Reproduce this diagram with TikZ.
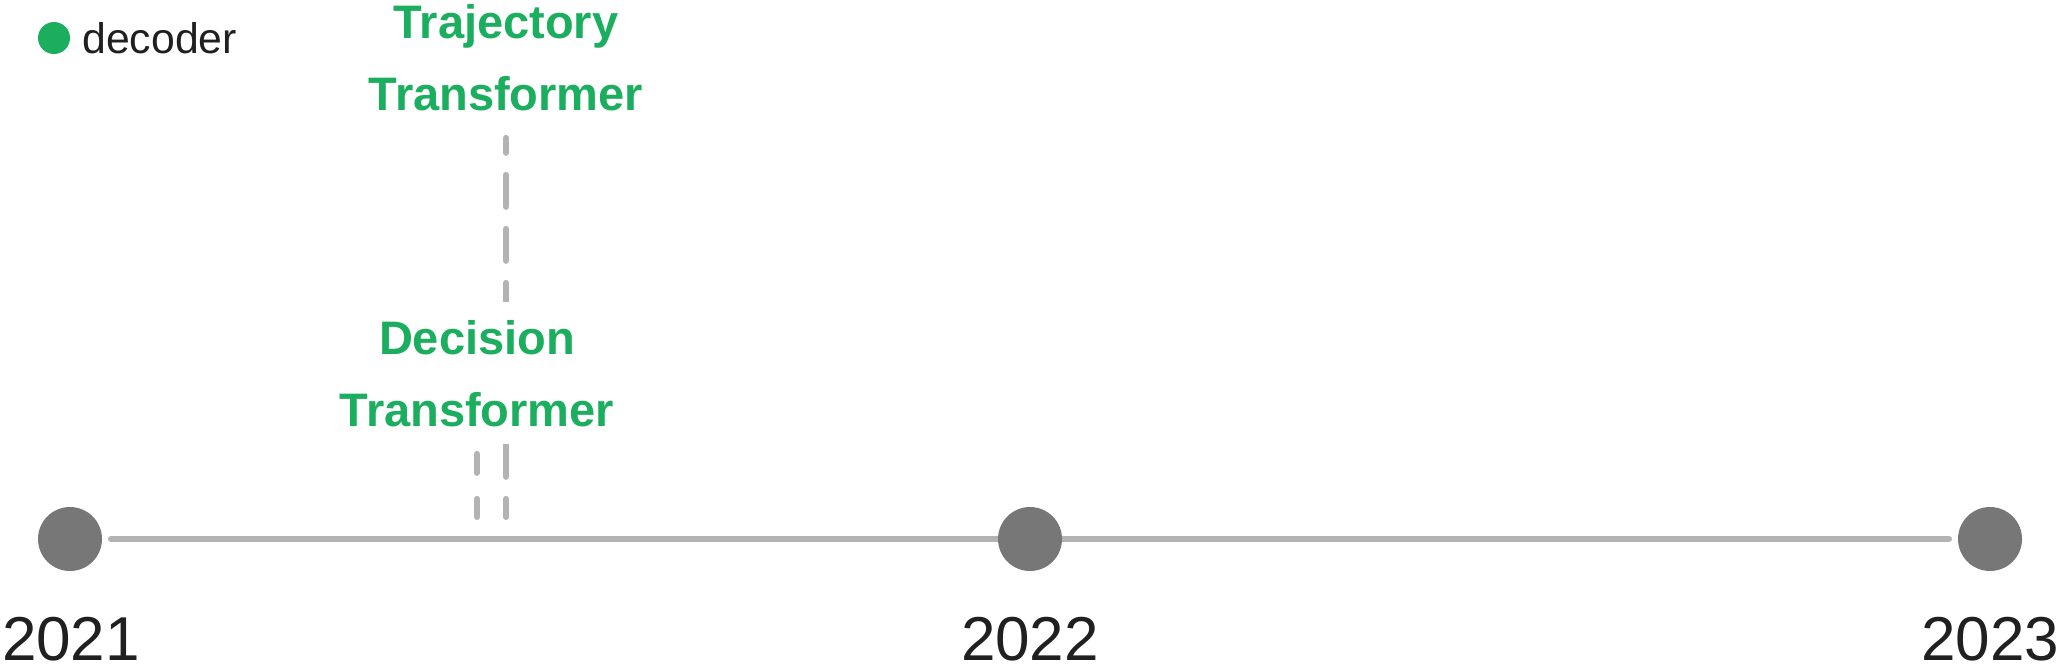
\documentclass[tikz,border=0pt]{standalone}
\usepackage{fontspec}
\setmainfont{Liberation Sans}
\usetikzlibrary{backgrounds}
\definecolor{evgreen}{RGB}{27,174,94}
\definecolor{tlgray}{RGB}{179,179,179}
\definecolor{dotgray}{RGB}{119,119,119}
\definecolor{txtblack}{RGB}{32,32,32}
\begin{document}
\begin{tikzpicture}[x=0.5pt,y=-0.5pt,
  yeardot/.style={circle,fill=dotgray,minimum size=32pt,inner sep=0pt,outer sep=0pt},
  yearlabel/.style={anchor=base,inner sep=0pt,text=txtblack,font=\fontsize{31pt}{31pt}\selectfont},
  event/.style={anchor=base,align=center,text=evgreen,fill=white,inner xsep=4pt,inner ysep=9pt,font=\fontsize{23.5pt}{36pt}\selectfont\bfseries},
  tick/.style={draw=tlgray,line width=3pt,line cap=round},
  timeline/.style={draw=tlgray,line width=3pt,line cap=round}]
\useasboundingbox (0,0) rectangle (2064,669);
% legend
\node[circle,fill=evgreen,minimum size=16pt,inner sep=0pt] (legdot) at (54,38) {};
\node[anchor=base west,inner sep=0pt,text=txtblack,font=\fontsize{21.4pt}{24pt}\selectfont] (legtext) at (82,53) {decoder};
% year dots
\node[yeardot] (c2021) at (70,539) {};
\node[yeardot] (c2022) at (1030,539) {};
\node[yeardot] (c2023) at (1990,539) {};
% year labels
\node[yearlabel] (y2021) at (71,660) {2021};
\node[yearlabel] (y2022) at (1030,660) {2022};
\node[yearlabel] (y2023) at (1990,660) {2023};
% events (base = baseline of last line)
\node[event] (traj) at (506,110) {Trajectory\\Transformer};
\node[event] (dec) at (477,426) {Decision\\Transformer};
\coordinate (tp) at (506,539);
\coordinate (dp) at (477,539);
\begin{scope}[on background layer]
\draw[timeline, shorten <=4.5pt, shorten >=4.5pt] (c2021) -- (c2023);
\draw[tick, dash pattern=on 16pt off 11pt, dash phase=8.5pt, shorten <=4.5pt, shorten >=11pt] (traj.south) -- (tp);
\draw[tick, dash pattern=on 9.5pt off 13pt, shorten <=4.5pt, shorten >=11pt] (dec.south) -- (dp);
\end{scope}
\end{tikzpicture}
\end{document}
